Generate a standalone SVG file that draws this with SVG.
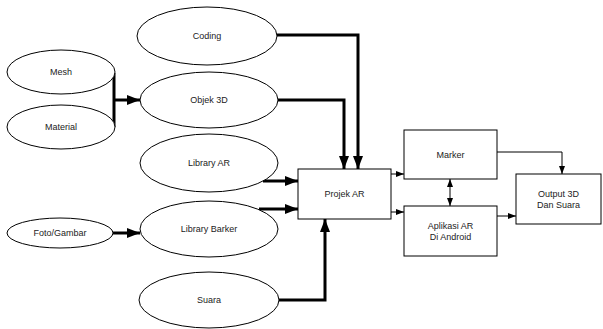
<svg xmlns="http://www.w3.org/2000/svg" width="603" height="329" viewBox="0 0 603 329">
<style>
.n{fill:#fff;stroke:#000;stroke-width:1}
.t{font-family:"Liberation Sans",Arial,sans-serif;font-size:9px;fill:#222;text-anchor:middle}
.thick{fill:none;stroke:#000;stroke-width:3}
.thin{fill:none;stroke:#000;stroke-width:1}
</style>
<defs>
<marker id="ah" markerWidth="13" markerHeight="10" refX="13" refY="5" orient="auto" markerUnits="userSpaceOnUse">
<path d="M0,0 L13,5 L0,10 Z" fill="#000"/>
</marker>
<marker id="as" markerWidth="8" markerHeight="6" refX="8" refY="3" orient="auto-start-reverse" markerUnits="userSpaceOnUse">
<path d="M0,0 L8,3 L0,6 Z" fill="#000"/>
</marker>
</defs>
<rect width="603" height="329" fill="#fff"/>
<g id="connectors">
<path class="thick" d="M114,73 V127"/>
<path class="thick" d="M114,100 H140" marker-end="url(#ah)"/>
<path class="thick" d="M113,233 H140" marker-end="url(#ah)"/>
<path class="thick" d="M277,35 H358 V169" marker-end="url(#ah)"/>
<path class="thick" d="M278,100 H344 V169" marker-end="url(#ah)"/>
<path class="thick" d="M263,181 H298" marker-end="url(#ah)"/>
<path class="thick" d="M259,209 H298" marker-end="url(#ah)"/>
<path class="thick" d="M279,300 H325 V219" marker-end="url(#ah)"/>
<path class="thin" d="M391,174 H404" marker-end="url(#as)"/>
<path class="thin" d="M391,212 H404" marker-end="url(#as)"/>
<path class="thin" d="M450,179 V206" marker-start="url(#as)" marker-end="url(#as)"/>
<path class="thin" d="M497,152 H562 V174" marker-end="url(#as)"/>
<path class="thin" d="M497,216 H516" marker-end="url(#as)"/>
</g>
<g id="coding"><ellipse class="n" cx="207" cy="36" rx="70" ry="29"/><text class="t" x="207" y="39">Coding</text></g>
<g id="mesh"><ellipse class="n" cx="61" cy="72" rx="54" ry="22"/><text class="t" x="61" y="75">Mesh</text></g>
<g id="material"><ellipse class="n" cx="61" cy="127" rx="54" ry="22"/><text class="t" x="61" y="130">Material</text></g>
<g id="objek3d"><ellipse class="n" cx="209" cy="100" rx="69" ry="28"/><text class="t" x="209" y="103">Objek 3D</text></g>
<g id="libraryar"><ellipse class="n" cx="209" cy="163" rx="69" ry="29"/><text class="t" x="209" y="166">Library AR</text></g>
<g id="foto"><ellipse class="n" cx="60" cy="233" rx="53" ry="15"/><text class="t" x="60" y="236">Foto/Gambar</text></g>
<g id="librarybarker"><ellipse class="n" cx="209" cy="229" rx="69" ry="28"/><text class="t" x="209" y="232">Library Barker</text></g>
<g id="suara"><ellipse class="n" cx="209" cy="300" rx="70" ry="28"/><text class="t" x="209" y="303">Suara</text></g>
<g id="projekar"><rect class="n" x="298" y="169" width="93" height="50"/><text class="t" x="344.5" y="197">Projek AR</text></g>
<g id="marker"><rect class="n" x="404" y="130" width="93" height="49"/><text class="t" x="450.5" y="158">Marker</text></g>
<g id="aplikasi"><rect class="n" x="404" y="206" width="93" height="50"/><text class="t" x="450.5" y="229">Aplikasi AR</text><text class="t" x="450.5" y="240">Di Android</text></g>
<g id="output"><rect class="n" x="516" y="174" width="85" height="50"/><text class="t" x="558.5" y="197">Output 3D</text><text class="t" x="558.5" y="208">Dan Suara</text></g>
</svg>
